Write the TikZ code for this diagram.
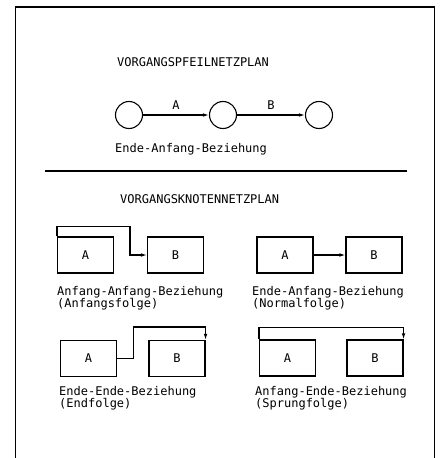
\documentclass[tikz,border=0pt]{standalone}
\usepackage{fontspec}
\setmonofont{DejaVu Sans Mono}
\usetikzlibrary{arrows.meta}
\begin{document}
\begin{tikzpicture}[x=1pt,y=-1pt,
  every node/.style={font=\ttfamily\fontsize{12}{12}\selectfont, inner sep=0pt},
  txt/.style={anchor=base west, align=left},
  box/.style={draw, line width=1.1pt, minimum width=56pt, minimum height=36pt},
  evt/.style={draw, circle, line width=1.1pt, minimum size=27pt},
  arr/.style={line width=1.1pt, -{Latex[length=6pt,width=3.6pt]}}]
\useasboundingbox (0,0) rectangle (441,458);
% frame
\draw[line width=1.8pt] (15.5,458) -- (15.5,7) -- (434.5,7) -- (434.5,458);
% top part
\node[txt] (t1) at (117,66) {VORGANGSPFEILNETZPLAN};
\node[evt] (e1) at (129,115) {};
\node[evt] (e2) at (223,115) {};
\node[evt] (e3) at (319,115) {};
\draw[arr] (e1) -- node[above=5pt] {A} (e2);
\draw[arr] (e2) -- node[above=5pt] {B} (e3);
\node[txt] (t2) at (115,152) {Ende-Anfang-Beziehung};
\draw[line width=1.5pt] (45,171) -- (407,171);
\node[txt] (t3) at (120,203) {VORGANGSKNOTENNETZPLAN};
% Anfang-Anfang
\node[box] (a1) at (85.5,255) {A};
\node[box] (b1) at (175.5,255) {B};
\draw[arr] (a1.north west) -- ([yshift=10pt]a1.north west) -| ([xshift=-17pt]b1.west) -- (b1.west);
\node[txt] (l1) at (57,307) {Anfang-Anfang-Beziehung\\(Anfangsfolge)};
% Ende-Anfang
\node[box] (a2) at (285,255) {A};
\node[box] (b2) at (374,255) {B};
\draw[arr] (a2.east) -- (b2.west);
\node[txt] (l2) at (252,307) {Ende-Anfang-Beziehung\\(Normalfolge)};
% Ende-Ende
\node[box] (a3) at (88.5,358.5) {A};
\node[box] (b3) at (177,358.5) {B};
\draw[arr] (a3.east) -- ([xshift=16pt]a3.east) |- ([yshift=13pt]b3.north east) -- (b3.north east);
\node[txt] (l3) at (59,407) {Ende-Ende-Beziehung\\(Endfolge)};
% Anfang-Ende
\node[box] (a4) at (287.5,358) {A};
\node[box] (b4) at (375,358) {B};
\draw[arr] (a4.north west) -- ([yshift=12pt]a4.north west) -| (b4.north east);
\node[txt] (l4) at (255,407) {Anfang-Ende-Beziehung\\(Sprungfolge)};
\end{tikzpicture}
\end{document}
